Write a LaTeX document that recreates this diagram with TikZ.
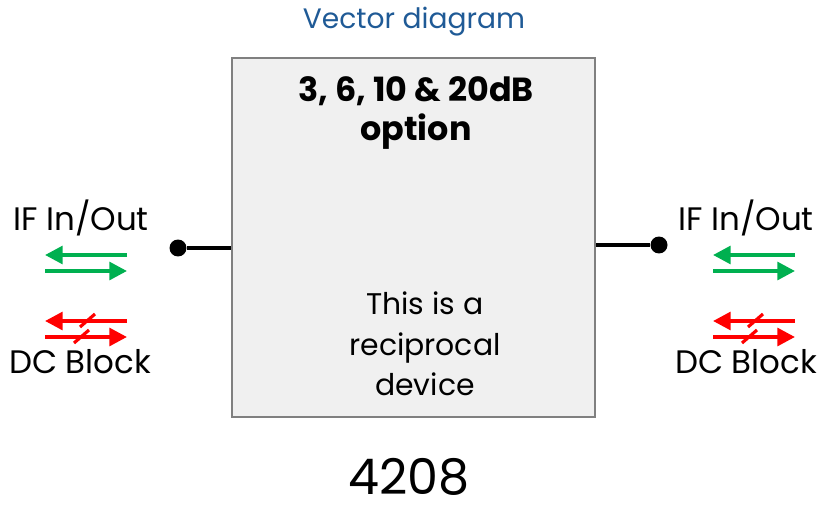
\documentclass[tikz,border=0pt]{standalone}
\usepackage{fontspec}
\setmainfont{Poppins}
\usetikzlibrary{arrows.meta}

\definecolor{titleblue}{HTML}{1F5A96}
\definecolor{ifgreen}{HTML}{00B050}
\definecolor{dcred}{HTML}{FF0000}
\definecolor{boxgray}{HTML}{F0F0F0}
\definecolor{edgegray}{HTML}{808080}

\tikzset{
  devbox/.style={draw=edgegray,line width=1.2pt,fill=boxgray,minimum width=7.26cm,minimum height=7.18cm,inner sep=0pt},
  port/.style={circle,fill=black,inner sep=0pt,minimum size=0.34cm},
  lead/.style={line width=2.2pt},
  sigarrow/.style={line width=2.2pt,-{Triangle[length=10pt,width=10pt]}},
  slash/.style={line width=1.8pt},
  lbl/.style={font=\fontsize{18.5}{20}\selectfont,inner sep=0pt}
}

\begin{document}
\begin{tikzpicture}[x=0.02cm,y=-0.02cm]
    \useasboundingbox (0,0) rectangle (819,507);
    % Title
    \node[text=titleblue,font=\fontsize{16}{18}\selectfont] (title) at (414,22) {Vector diagram};
    % Device box
    \node[devbox] (dev) at (413.5,237.5) {};
    \node[font=\bfseries\fontsize{19}{21}\selectfont,align=center] (opt) at (416,113) {3, 6, 10 \& 20dB\\[1pt]option};
    \node[font=\fontsize{17}{23}\selectfont,align=center] (recip) at (425,344) {This is a\\reciprocal\\device};
    \node[font=\fontsize{28}{30}\selectfont,inner sep=0pt] (num) at (409,477) {4208};
    % Ports
    \node[port] (pl) at (178,248) {};
    \node[port] (pr) at (659,245) {};
    \draw[lead] (pl) -- (pl -| dev.west);
    \draw[lead] (pr) -- (pr -| dev.east);
    % Left labels and arrows
    \node[lbl] (ifl) at (81,218) {IF In/Out};
    \node[lbl] (dcl) at (80,362) {DC Block};
    \draw[sigarrow,ifgreen] (127,255) -- (45,255);
    \draw[sigarrow,ifgreen] (45,271) -- (127,271);
    \draw[sigarrow,dcred] (127,321) -- (45,321);
    \draw[sigarrow,dcred] (45,337) -- (127,337);
    \draw[slash,dcred] (80,327) -- (95,314);
    \draw[slash,dcred] (74,343) -- (89,330);
    % Right labels and arrows
    \node[lbl] (ifr) at (746,218) {IF In/Out};
    \node[lbl] (dcr) at (746,362) {DC Block};
    \draw[sigarrow,ifgreen] (795,255) -- (713,255);
    \draw[sigarrow,ifgreen] (713,271) -- (795,271);
    \draw[sigarrow,dcred] (795,321) -- (713,321);
    \draw[sigarrow,dcred] (713,337) -- (795,337);
    \draw[slash,dcred] (748,327) -- (763,314);
    \draw[slash,dcred] (742,343) -- (757,330);
\end{tikzpicture}
\end{document}
